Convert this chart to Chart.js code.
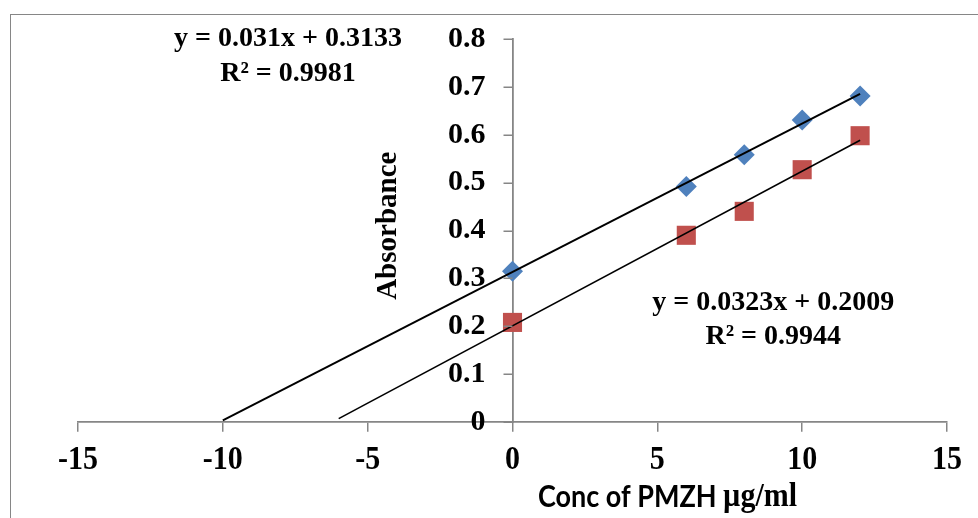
<!DOCTYPE html>
<html>
<head>
<meta charset="utf-8">
<script src="https://cdn.jsdelivr.net/npm/chart.js@4"></script>
<style>
  html, body { margin: 0; padding: 0; background: #fff; }
  #wrap { width: 978px; height: 518px; position: relative; }
</style>
</head>
<body>
<div id="wrap"><canvas id="calib"></canvas></div>
<script>
// concentrations (µg/ml) and measured absorbances
const conc = [0, 6, 8, 10, 12];
const absBlue = [0.315, 0.492, 0.558, 0.631, 0.681];
const absRed = [0.208, 0.390, 0.440, 0.527, 0.598];

// linear fits, extended backwards to the x axis
const fitBlue = { slope: 0.031, intercept: 0.3133, r2: 0.9981, from: -10, to: 12 };
const fitRed = { slope: 0.0323, intercept: 0.2009, r2: 0.9944, from: -6, to: 12 };

const xRange = [-15, 15];
const yRange = [0, 0.8];
const xStep = 5;
const yStep = 0.1;

// where the equation boxes and axis titles sit, in data units
const blueLabelAt = [-7.75, 0.8, 0.728];
const redLabelAt = [9.0, 0.25, 0.177];
const xTitleAt = [5.35, -0.156];
const yTitleAt = [-4.27, 0.41];

const serif = "'Liberation Serif', 'Times New Roman', serif";
const axisGrey = "#868686";
const tickLen = 9;

const pts = (xs, ys) => xs.map((x, i) => ({ x, y: ys[i] }));
const fitLine = f => [f.from, f.to].map(x => ({ x, y: f.slope * x + f.intercept }));
const fmt = v => String(Number(v.toFixed(1)));

// axes cross at (0, 0) inside the plot, so tick labels and titles are placed here
const decor = {
  id: "decor",
  beforeDraw(chart) {
    const c = chart.ctx;
    c.save();
    c.strokeStyle = axisGrey;
    c.lineWidth = 1;
    c.strokeRect(10.5, 14.5, chart.width + 10, chart.height + 10);
    c.restore();
  },
  afterDraw(chart) {
    const { ctx: c, scales: { x, y } } = chart;
    const x0 = x.getPixelForValue(0);
    const y0 = y.getPixelForValue(0);
    c.save();

    // y tick marks pointing left
    c.strokeStyle = axisGrey;
    c.lineWidth = 1.5;
    c.beginPath();
    y.ticks.forEach(t => {
      const py = Math.round(y.getPixelForValue(t.value)) + 0.25;
      c.moveTo(x0, py);
      c.lineTo(x0 - tickLen, py);
    });
    c.stroke();

    c.fillStyle = "#000";
    c.textBaseline = "middle";

    // y tick labels, left of the vertical axis
    c.font = `bold 30px ${serif}`;
    c.textAlign = "right";
    y.ticks.forEach(t => c.fillText(fmt(t.value), x0 - 27, y.getPixelForValue(t.value)));

    // x tick labels, slightly tall
    c.textAlign = "center";
    x.ticks.forEach(t => {
      c.save();
      c.translate(x.getPixelForValue(t.value), y0 + 38);
      c.scale(1, 1.15);
      c.fillText(String(t.value), 0, 0);
      c.restore();
    });

    // regression equations
    c.font = `bold 28px ${serif}`;
    const eq = (f, at) => {
      const px = x.getPixelForValue(at[0]);
      c.fillText(`y = ${f.slope}x + ${f.intercept}`, px, y.getPixelForValue(at[1]));
      c.fillText(`R² = ${f.r2}`, px, y.getPixelForValue(at[2]));
    };
    eq(fitBlue, blueLabelAt);
    eq(fitRed, redLabelAt);

    // x title: sans words followed by the unit in serif
    const head = "Conc of PMZH ";
    const unit = "µg/ml";
    const sansFont = "bold 27px Lato, 'Liberation Sans', sans-serif";
    const unitFont = `bold 30px ${serif}`;
    c.font = sansFont;
    const wHead = c.measureText(head).width;
    c.font = unitFont;
    const wUnit = c.measureText(unit).width;
    c.save();
    c.translate(x.getPixelForValue(xTitleAt[0]), y.getPixelForValue(xTitleAt[1]));
    c.scale(1, 1.15);
    c.textAlign = "left";
    c.font = sansFont;
    c.fillText(head, -(wHead + wUnit) / 2, 0);
    c.font = unitFont;
    c.fillText(unit, -(wHead + wUnit) / 2 + wHead, 0);
    c.restore();

    // y title
    c.translate(x.getPixelForValue(yTitleAt[0]), y.getPixelForValue(yTitleAt[1]));
    c.rotate(-Math.PI / 2);
    c.textAlign = "center";
    c.font = `bold 29px ${serif}`;
    c.fillText("Absorbance", 0, 0);
    c.restore();
  }
};

new Chart(document.getElementById("calib"), {
  type: "scatter",
  data: {
    datasets: [
      { data: fitLine(fitBlue), type: "line", borderColor: "#000", borderWidth: 2, pointRadius: 0, order: 0 },
      { data: fitLine(fitRed), type: "line", borderColor: "#000", borderWidth: 1.6, pointRadius: 0, order: 0 },
      { data: pts(conc, absBlue), pointStyle: "rectRot", pointRadius: 10.5, backgroundColor: "#4f81bd", borderColor: "#4f81bd", borderWidth: 0, order: 1 },
      { data: pts(conc, absRed), pointStyle: "rect", pointRadius: 13.5, backgroundColor: "#c0504d", borderColor: "#c0504d", borderWidth: 0, order: 1 },
    ],
  },
  options: {
    responsive: true,
    maintainAspectRatio: false,
    animation: false,
    layout: { padding: { left: 78, right: 31, top: 39, bottom: 96 } },
    plugins: { legend: { display: false }, tooltip: { enabled: false } },
    scales: {
      x: {
        type: "linear",
        min: xRange[0],
        max: xRange[1],
        position: { y: 0 },
        ticks: { stepSize: xStep, color: "rgba(0,0,0,0)" },
        grid: { drawOnChartArea: false, tickLength: tickLen, color: axisGrey, lineWidth: 1.5 },
        border: { color: axisGrey, width: 1.8 },
      },
      y: {
        type: "linear",
        min: yRange[0],
        max: yRange[1],
        position: { x: 0 },
        ticks: { stepSize: yStep, color: "rgba(0,0,0,0)" },
        grid: { drawOnChartArea: false, drawTicks: false, color: axisGrey },
        border: { color: axisGrey, width: 1.8 },
      },
    },
  },
  plugins: [decor],
});
</script>
</body>
</html>
